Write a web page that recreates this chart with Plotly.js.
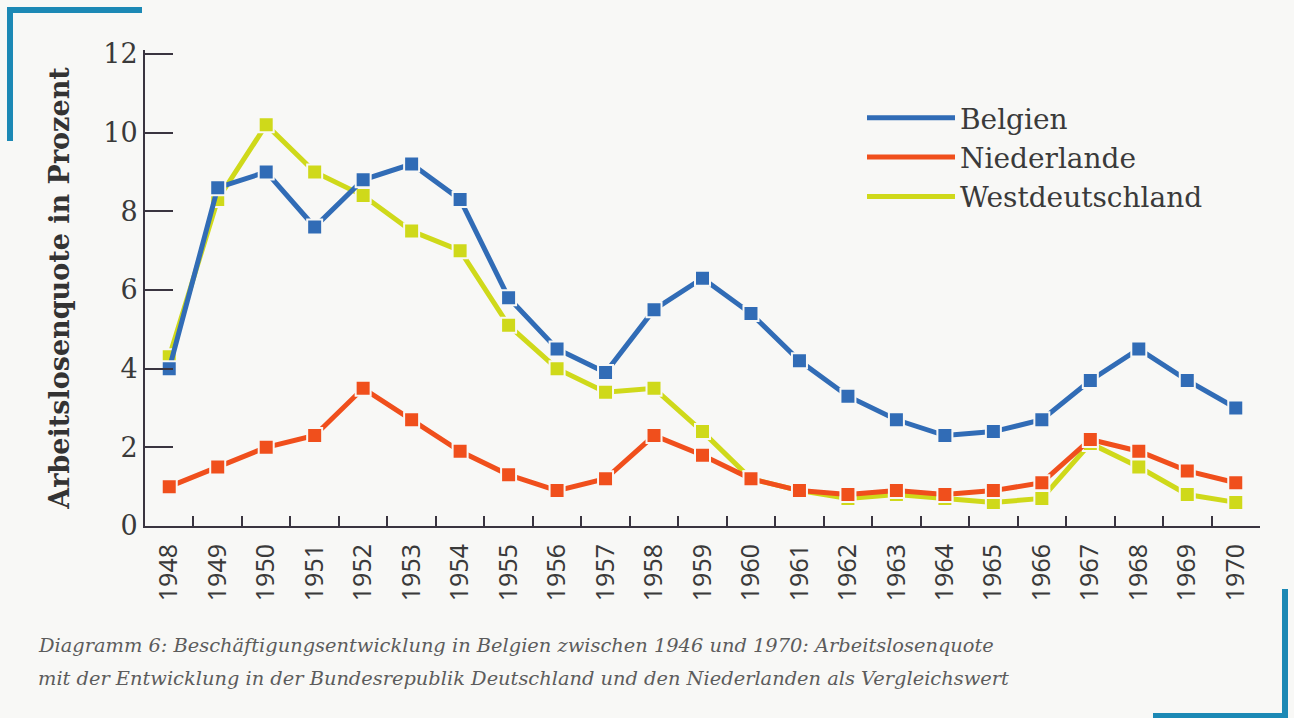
<!DOCTYPE html>
<html>
<head>
<meta charset="utf-8">
<script src="https://cdn.plot.ly/plotly-3.0.1.min.js"></script>
<style>
  html, body { margin: 0; padding: 0; background: #f8f8f6; }
  #chart { width: 1294px; height: 718px; }
</style>
</head>
<body>
<div id="chart"></div>
<script>
const years = ['1948','1949','1950','1951','1952','1953','1954','1955','1956','1957','1958','1959',
               '1960','1961','1962','1963','1964','1965','1966','1967','1968','1969','1970'];
const belgien = [4.0, 8.6, 9.0, 7.6, 8.8, 9.2, 8.3, 5.8, 4.5, 3.9, 5.5, 6.3,
                 5.4, 4.2, 3.3, 2.7, 2.3, 2.4, 2.7, 3.7, 4.5, 3.7, 3.0];
const niederlande = [1.0, 1.5, 2.0, 2.3, 3.5, 2.7, 1.9, 1.3, 0.9, 1.2, 2.3, 1.8,
                     1.2, 0.9, 0.8, 0.9, 0.8, 0.9, 1.1, 2.2, 1.9, 1.4, 1.1];
const westdeutschland = [4.3, 8.3, 10.2, 9.0, 8.4, 7.5, 7.0, 5.1, 4.0, 3.4, 3.5, 2.4,
                         1.2, 0.9, 0.7, 0.8, 0.7, 0.6, 0.7, 2.1, 1.5, 0.8, 0.6];
const seriesNames = ['Westdeutschland', 'Niederlande', 'Belgien'];
const yTicks = [0, 2, 4, 6, 8, 10, 12];
const yTitle = 'Arbeitslosenquote in Prozent';
const caption1 = 'Diagramm 6: Beschäftigungsentwicklung in Belgien zwischen 1946 und 1970: Arbeitslosenquote';
const caption2 = 'mit der Entwicklung in der Bundesrepublik Deutschland und den Niederlanden als Vergleichswert';

const colors = {Westdeutschland: '#cfd91a', Niederlande: '#f04f1c', Belgien: '#316cb6'};
const dataBy = {Westdeutschland: westdeutschland, Niederlande: niederlande, Belgien: belgien};
const bg = '#f8f8f6';

const traces = [];
seriesNames.forEach(name => {
  traces.push({
    type: 'scatter', mode: 'lines', name: name, x: years, y: dataBy[name],
    line: {color: colors[name], width: 5}, showlegend: true, hoverinfo: 'skip'
  });
  traces.push({
    type: 'scatter', mode: 'markers', name: name, x: years, y: dataBy[name],
    marker: {symbol: 'square', size: 15, color: colors[name], line: {color: bg, width: 2}},
    showlegend: false
  });
});

const L = 145, R = 1260, T = 50, B = 526;
const YMAX = 12.1;
const W = R - L, H = B - T;
const px = v => (v - L) / W;
const py = v => (B - v) / H;
const deco = '#1c89b5';
const axisCol = '#3a3540';

const layout = {
  width: 1294, height: 718,
  paper_bgcolor: bg, plot_bgcolor: bg,
  margin: {l: L, r: 1294 - R, t: T, b: 718 - B},
  showlegend: true,
  legend: {
    x: px(862), y: py(93), xanchor: 'left', yanchor: 'top',
    traceorder: 'reversed', bgcolor: 'rgba(0,0,0,0)', borderwidth: 0,
    itemwidth: 88,
    font: {family: 'DejaVu Serif', size: 28, color: '#3a3a3a'}
  },
  xaxis: {
    type: 'category', range: [-0.5, 22.5], tickson: 'boundaries',
    showline: true, linecolor: axisCol, linewidth: 2,
    ticks: 'inside', ticklen: 10, tickwidth: 2, tickcolor: axisCol,
    tickangle: -90, showgrid: false, zeroline: false, ticklabelstandoff: 6,
    tickfont: {family: 'Noto Sans', size: 25, color: '#3a3a3a'}
  },
  yaxis: {
    range: [0, YMAX], tickmode: 'array', tickvals: yTicks, ticktext: yTicks.map(String),
    showline: true, linecolor: axisCol, linewidth: 2,
    ticks: 'inside', ticklen: 28, tickwidth: 2, tickcolor: axisCol,
    showgrid: false, zeroline: false,
    tickfont: {family: 'DejaVu Serif', size: 27, color: '#3a3a3a'},
    title: {text: yTitle, standoff: 26,
            font: {family: 'DejaVu Serif', size: 27, weight: 'bold', color: '#333333'}}
  },
  annotations: [
    {xref: 'paper', yref: 'paper', x: px(36), y: py(645), xanchor: 'left', yanchor: 'middle',
     text: caption1, showarrow: false,
     font: {family: 'DejaVu Serif', size: 19.4, style: 'italic', color: '#5c5c5c'}},
    {xref: 'paper', yref: 'paper', x: px(36), y: py(678), xanchor: 'left', yanchor: 'middle',
     text: caption2, showarrow: false,
     font: {family: 'DejaVu Serif', size: 19.4, style: 'italic', color: '#5c5c5c'}}
  ],
  shapes: [
    {type: 'line', xref: 'paper', yref: 'paper', x0: px(10), x1: px(10), y0: py(7), y1: py(141), line: {color: deco, width: 6}},
    {type: 'line', xref: 'paper', yref: 'paper', x0: px(7), x1: px(142), y0: py(10), y1: py(10), line: {color: deco, width: 6}},
    {type: 'line', xref: 'paper', yref: 'paper', x0: px(1285), x1: px(1285), y0: py(589), y1: py(719), line: {color: deco, width: 6}},
    {type: 'line', xref: 'paper', yref: 'paper', x0: px(1153), x1: px(1288), y0: py(716), y1: py(716), line: {color: deco, width: 6}}
  ]
};

Plotly.newPlot('chart', traces, layout, {displayModeBar: false, staticPlot: true});
</script>
</body>
</html>
